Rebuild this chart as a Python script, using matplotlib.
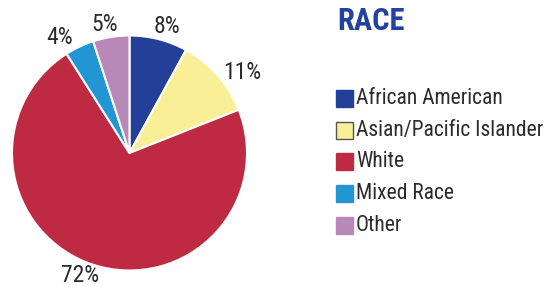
import matplotlib
matplotlib.use("Agg")
import matplotlib.pyplot as plt
import numpy as np
from matplotlib.patches import Rectangle

plt.rcParams['font.family'] = ['Roboto Condensed', 'DejaVu Sans']

categories = ["African American", "Asian/Pacific Islander", "White", "Mixed Race", "Other"]
values = [8, 11, 72, 4, 5]
colors = ["#233f98", "#f9ef97", "#be2a41", "#2196d3", "#b788b8"]
title = "RACE"

# label placement (radius factor, angular shift in degrees)
label_dist = [1.12, 1.18, 1.12, 1.15, 1.11]
label_shift = [-2, -6, -4, 6, 2]

W, H = 548, 287
fig = plt.figure(figsize=(W / 100, H / 100), dpi=100)

# pie axes
cx, cy, r = 129.5, 153, 117.5
ax = fig.add_axes([(cx - r) / W, (H - cy - r) / H, 2 * r / W, 2 * r / H])
wedges, texts, autotexts = ax.pie(
    values, colors=colors, startangle=90, counterclock=False,
    wedgeprops=dict(edgecolor="white", linewidth=1.5),
    autopct=lambda p: f"{p:.0f}%", pctdistance=1.14,
    textprops=dict(fontsize=17, color="#2b2b2b"))
for w, t, d, sh in zip(wedges, autotexts, label_dist, label_shift):
    ang = np.deg2rad((w.theta1 + w.theta2) / 2 + sh)
    t.set_position((d * np.cos(ang), d * np.sin(ang)))
ax.set_xlim(-1, 1)
ax.set_ylim(-1, 1)
ax.set_aspect("auto")
ax.axis("off")

# title
fig.text(337 / W, 1 - 21 / H, title, fontsize=22, fontweight="bold",
         color="#2342a0", ha="left", va="center")

# legend
lax = fig.add_axes([0, 0, 1, 1])
lax.set_xlim(0, W)
lax.set_ylim(H, 0)
lax.axis("off")
y0, dy, s = 98.5, 31.7, 17
for i, (cat, col) in enumerate(zip(categories, colors)):
    y = y0 + i * dy
    ec = "#555555" if i == 1 else col
    lax.add_patch(Rectangle((336, y - s / 2), s, s, facecolor=col,
                            edgecolor=ec, linewidth=1.0))
    lax.text(356, y, cat, fontsize=15.5, color="#2b2b2b", ha="left", va="center")

fig.savefig("out.png", dpi=100)
